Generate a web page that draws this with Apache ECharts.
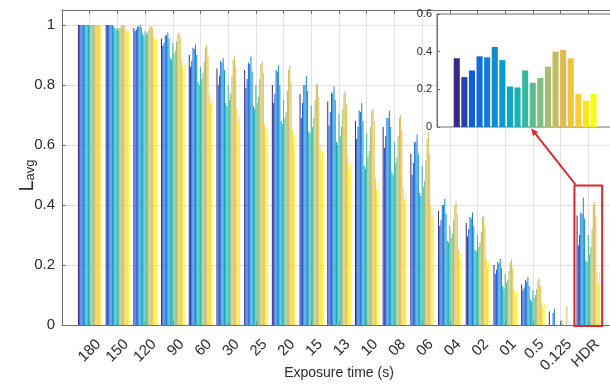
<!DOCTYPE html>
<html>
<head>
<meta charset="utf-8">
<script src="https://cdn.jsdelivr.net/npm/echarts@6/dist/echarts.min.js"></script>
<style>
  html, body { margin: 0; padding: 0; background: #ffffff; }
  #chart { width: 610px; height: 384px; }
</style>
</head>
<body>
<div id="chart"></div>
<script>
// Exposure-time categories along the x axis
const exposures = ['180', '150', '120', '90', '60', '30', '25', '20', '15', '13',
                   '10', '08', '06', '04', '02', '01', '0.5', '0.125', 'HDR'];
const yTickLabels = ['0', '0.2', '0.4', '0.6', '0.8', '1'];
const insetTickLabels = ['0', '0.2', '0.4', '0.6'];

// Average luminance of the 19 images, one array per exposure time
const g180  = [1, 1, 1, 1, 1, 1, 1, 1, 1, 1, 1, 1, 1, 1, 1, 1, 1, 1, 1];
const g150  = [1, 1, 1, 1, 1, 1, 0.995, 0.99, 0.985, 0.99, 0.985, 0.99, 0.995, 1, 1, 0.995, 0.985, 0.975, 0.98];
const g120  = [0.99, 0.98, 0.985, 0.995, 0.995, 1, 0.99, 0.97, 0.965, 0.98, 0.97, 0.975, 0.985, 0.995, 0.995, 0.99, 0.96, 0.95, 0.955];
const g90   = [0.955, 0.93, 0.94, 0.965, 0.965, 0.975, 0.955, 0.89, 0.885, 0.94, 0.905, 0.915, 0.945, 0.97, 0.975, 0.96, 0.88, 0.86, 0.875];
const g60   = [0.90, 0.86, 0.88, 0.925, 0.92, 0.935, 0.90, 0.81, 0.80, 0.86, 0.82, 0.84, 0.88, 0.925, 0.935, 0.90, 0.77, 0.74, 0.76];
const g30   = [0.855, 0.80, 0.83, 0.88, 0.875, 0.89, 0.85, 0.74, 0.73, 0.80, 0.75, 0.77, 0.83, 0.885, 0.895, 0.86, 0.72, 0.68, 0.70];
const g25   = [0.85, 0.79, 0.82, 0.875, 0.87, 0.895, 0.845, 0.73, 0.72, 0.80, 0.74, 0.76, 0.82, 0.87, 0.88, 0.84, 0.67, 0.64, 0.66];
const g20   = [0.80, 0.74, 0.77, 0.85, 0.845, 0.865, 0.80, 0.68, 0.67, 0.75, 0.69, 0.71, 0.78, 0.85, 0.865, 0.81, 0.65, 0.60, 0.63];
const g15   = [0.77, 0.69, 0.74, 0.80, 0.80, 0.83, 0.78, 0.645, 0.64, 0.73, 0.66, 0.69, 0.75, 0.80, 0.805, 0.76, 0.60, 0.55, 0.58];
const g13   = [0.745, 0.665, 0.71, 0.775, 0.77, 0.795, 0.75, 0.61, 0.60, 0.705, 0.63, 0.66, 0.72, 0.77, 0.78, 0.735, 0.56, 0.52, 0.54];
const g10   = [0.68, 0.62, 0.66, 0.715, 0.71, 0.74, 0.68, 0.53, 0.52, 0.64, 0.56, 0.58, 0.66, 0.715, 0.72, 0.68, 0.49, 0.45, 0.48];
const g08   = [0.66, 0.59, 0.63, 0.69, 0.69, 0.715, 0.66, 0.51, 0.50, 0.61, 0.54, 0.56, 0.63, 0.69, 0.70, 0.65, 0.46, 0.42, 0.44];
const g06   = [0.57, 0.50, 0.54, 0.61, 0.61, 0.635, 0.57, 0.44, 0.43, 0.53, 0.46, 0.48, 0.55, 0.62, 0.64, 0.57, 0.40, 0.36, 0.39];
const g04   = [0.38, 0.33, 0.35, 0.40, 0.40, 0.42, 0.37, 0.28, 0.275, 0.33, 0.29, 0.305, 0.35, 0.40, 0.41, 0.37, 0.25, 0.22, 0.24];
const g02   = [0.34, 0.295, 0.32, 0.36, 0.355, 0.375, 0.33, 0.25, 0.245, 0.30, 0.26, 0.275, 0.31, 0.36, 0.365, 0.33, 0.22, 0.19, 0.21];
const g01   = [0.20, 0.17, 0.185, 0.21, 0.205, 0.22, 0.19, 0.13, 0.12, 0.17, 0.14, 0.15, 0.18, 0.21, 0.22, 0.19, 0.12, 0.10, 0.11];
const g05   = [0.135, 0.115, 0.125, 0.15, 0.145, 0.16, 0.13, 0.085, 0.08, 0.115, 0.09, 0.10, 0.12, 0.15, 0.155, 0.13, 0.075, 0.06, 0.07];
const g0125 = [0.045, 0, 0, 0.04, 0.055, 0, 0, 0, 0, 0, 0.017, 0, 0, 0, 0.063, 0, 0, 0, 0];
const gHDR  = [0.365, 0.265, 0.30, 0.375, 0.37, 0.425, 0.355, 0.215, 0.21, 0.30, 0.235, 0.26, 0.32, 0.40, 0.41, 0.365, 0.175, 0.14, 0.175];

const groups = [g180, g150, g120, g90, g60, g30, g25, g20, g15, g13,
                g10, g08, g06, g04, g02, g01, g05, g0125, gHDR];

// Parula colour map (sampled stops), one colour per image
const parulaStops = [
  [0.2081, 0.1663, 0.5292], [0.0591, 0.3598, 0.8683], [0.0723, 0.4887, 0.8467],
  [0.0265, 0.6137, 0.8135], [0.0843, 0.6928, 0.7062], [0.3482, 0.7424, 0.5473],
  [0.6473, 0.7456, 0.4188], [0.8824, 0.7274, 0.3217], [0.9880, 0.8066, 0.1794],
  [0.9763, 0.9831, 0.0538]
];
function parula(t) {
  const f = t * (parulaStops.length - 1);
  const i = Math.min(Math.floor(f), parulaStops.length - 2);
  const u = f - i;
  const a = parulaStops[i], b = parulaStops[i + 1];
  const c = a.map((v, k) => Math.round(255 * (v + (b[k] - v) * u)));
  return 'rgb(' + c.join(',') + ')';
}
const nImages = gHDR.length;
const palette = Array.from({ length: nImages }, (_, i) => parula(i / (nImages - 1)));

const FONT = '"Liberation Sans", Arial, Helvetica, sans-serif';
const AXIS = '#6f6f6f';
const GRIDLINE = '#e2e2e2';
const TEXT = '#2b2b2b';
const RED = '#e1262a';

const chart = echarts.init(document.getElementById('chart'), null, { renderer: 'canvas' });

const mainSeries = palette.map((color, s) => ({
  type: 'bar',
  xAxisIndex: 0,
  yAxisIndex: 0,
  data: groups.map((g, ci) => [ci + 1, g[s]]),
  itemStyle: { color: color },
  barGap: '25%',
  barCategoryGap: '20%',
  silent: true,
  z: 2
}));

const option = {
  animation: false,
  textStyle: { fontFamily: FONT },
  grid: [
    { left: 62, top: 10, width: 554, height: 315, outerBoundsMode: 'none', containLabel: false },
    { left: 437, top: 14, width: 176.3, height: 113, show: true, backgroundColor: '#ffffff',
      borderColor: AXIS, borderWidth: 1, z: 5, outerBoundsMode: 'none', containLabel: false }
  ],
  xAxis: [
    {
      gridIndex: 0, type: 'value', min: 0, max: 20, interval: 1, position: 'bottom',
      axisLine: { show: true, onZero: false, lineStyle: { color: AXIS } },
      axisTick: { show: true, inside: true, length: 4, lineStyle: { color: AXIS } },
      splitLine: { show: true, lineStyle: { color: GRIDLINE } },
      axisLabel: {
        rotate: 45, fontSize: 15, color: TEXT, fontFamily: FONT, margin: 8,
        verticalAlign: 'top', lineHeight: 25, hideOverlap: false,
        formatter: v => exposures[Math.round(v) - 1] || ''
      },
      name: 'Exposure time (s)', nameLocation: 'middle', nameGap: 41, nameMoveOverlap: false,
      nameTextStyle: { fontSize: 14, color: TEXT, fontFamily: FONT }
    },
    {
      gridIndex: 0, type: 'value', min: 0, max: 20, interval: 1, position: 'top',
      axisLine: { show: true, onZero: false, lineStyle: { color: AXIS } },
      axisTick: { show: true, inside: true, length: 4, lineStyle: { color: AXIS } },
      axisLabel: { show: false },
      splitLine: { show: false }
    },
    {
      gridIndex: 1, type: 'value', min: -1.6, max: 21.6, z: 6,
      axisLine: { show: false, onZero: false },
      axisTick: { show: false },
      axisLabel: { show: false },
      splitLine: { show: false }
    }
  ],
  yAxis: [
    {
      gridIndex: 0, type: 'value', min: 0, max: 1.05, interval: 0.2,
      axisLine: { show: true, onZero: false, lineStyle: { color: AXIS } },
      axisTick: { show: true, inside: true, length: 4, lineStyle: { color: AXIS } },
      splitLine: { show: true, lineStyle: { color: GRIDLINE } },
      axisLabel: {
        fontSize: 15, color: TEXT, fontFamily: FONT, margin: 7,
        formatter: v => {
          const i = Math.round(v / 0.2);
          return Math.abs(v - i * 0.2) < 1e-6 ? (yTickLabels[i] || '') : '';
        }
      },
      name: '{a|L}{b|avg}', nameLocation: 'middle', nameRotate: 90, nameGap: 25, nameMoveOverlap: false,
      nameTextStyle: {
        color: TEXT, fontFamily: FONT, padding: [0, 16, 0, 0],
        rich: {
          a: { fontSize: 20, lineHeight: 26, verticalAlign: 'bottom', color: TEXT, fontFamily: FONT },
          b: { fontSize: 13, lineHeight: 12, verticalAlign: 'bottom', color: TEXT, fontFamily: FONT }
        }
      }
    },
    {
      gridIndex: 1, type: 'value', min: 0, max: 0.6, interval: 0.2, z: 6,
      axisLine: { show: true, onZero: false, lineStyle: { color: AXIS } },
      axisTick: { show: true, inside: true, length: 3, lineStyle: { color: AXIS } },
      splitLine: { show: false },
      axisLabel: {
        fontSize: 11, color: TEXT, fontFamily: FONT, margin: 5,
        formatter: v => insetTickLabels[Math.round(v / 0.2)] || ''
      }
    }
  ],
  series: mainSeries.concat([{
    type: 'bar',
    xAxisIndex: 2,
    yAxisIndex: 1,
    data: gHDR.map((v, i) => [i + 1, v]),
    barWidth: '80%',
    itemStyle: { color: p => palette[p.dataIndex] },
    silent: true,
    z: 7
  }])
};

chart.setOption(option);

// Highlight box around the HDR group and arrow pointing to the enlarged view
const hdrPos = exposures.indexOf('HDR') + 1;
const boxTop = 0.465;
const tl = chart.convertToPixel({ xAxisIndex: 0, yAxisIndex: 0 }, [hdrPos - 0.5, boxTop]);
const br = chart.convertToPixel({ xAxisIndex: 0, yAxisIndex: 0 }, [hdrPos + 0.5, 0]);
const tip = chart.convertToPixel({ xAxisIndex: 2, yAxisIndex: 1 }, [10.8, 0]);
tip[1] += 1.5;

const start = [tl[0] + 1, tl[1] - 1];
const dx = tip[0] - start[0], dy = tip[1] - start[1];
const len = Math.sqrt(dx * dx + dy * dy);
const ux = dx / len, uy = dy / len;
const headLen = 7, headHalf = 3.2;
const base = [tip[0] - ux * headLen, tip[1] - uy * headLen];

chart.setOption({
  graphic: [
    {
      type: 'rect', z: 20, silent: true,
      shape: { x: tl[0], y: tl[1], width: br[0] - tl[0], height: br[1] + 1 - tl[1] },
      style: { fill: null, stroke: RED, lineWidth: 2 }
    },
    {
      type: 'line', z: 20, silent: true,
      shape: { x1: start[0], y1: start[1], x2: base[0], y2: base[1] },
      style: { stroke: RED, lineWidth: 2 }
    },
    {
      type: 'polygon', z: 20, silent: true,
      shape: { points: [
        tip,
        [base[0] - uy * headHalf, base[1] + ux * headHalf],
        [base[0] + uy * headHalf, base[1] - ux * headHalf]
      ] },
      style: { fill: RED }
    }
  ]
});
</script>
</body>
</html>
